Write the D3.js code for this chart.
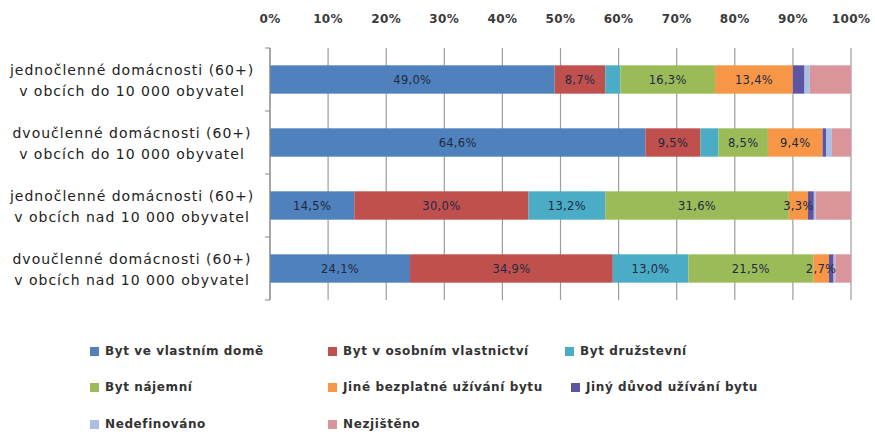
<!DOCTYPE html>
<html>
<head>
<meta charset="utf-8">
<script src="https://cdn.jsdelivr.net/npm/d3@7"></script>
<style>
  body { margin: 0; background: #fff; }
  svg { display: block; font-family: "DejaVu Sans", sans-serif; }
</style>
</head>
<body>
<svg width="875" height="436"></svg>
<script>
// kategorie (dva řádky popisku)
const categories = [
    ['jednočlenné domácnosti (60+)', 'v obcích do 10 000 obyvatel'],
    ['dvoučlenné domácnosti (60+)', 'v obcích do 10 000 obyvatel'],
    ['jednočlenné domácnosti (60+)', 'v obcích nad 10 000 obyvatel'],
    ['dvoučlenné domácnosti (60+)', 'v obcích nad 10 000 obyvatel']
];
const seriesNames = ['Byt ve vlastním domě', 'Byt v osobním vlastnictví', 'Byt družstevní',
    'Byt nájemní', 'Jiné bezplatné užívání bytu', 'Jiný důvod užívání bytu',
    'Nedefinováno', 'Nezjištěno'];
const colors = ['#4f81bd', '#c0504d', '#4bacc6', '#9bbb59', '#f79646', '#5e54a4', '#a9bfe6', '#d9959a'];

// hodnoty v % (po řadách)
const byt_vlastni_dum = [49.0, 64.6, 14.5, 24.1];
const byt_osobni = [8.7, 9.5, 30.0, 34.9];
const byt_druzstevni = [2.6, 3.1, 13.2, 13.0];
const byt_najemni = [16.3, 8.5, 31.6, 21.5];
const jine_bezplatne = [13.4, 9.4, 3.3, 2.7];
const jiny_duvod = [2.0, 0.6, 1.0, 0.8];
const nedefinovano = [0.9, 1.0, 0.3, 0.3];
const nezjisteno = [7.1, 3.3, 6.1, 2.7];
// které hodnoty mají popisek (řada x kategorie)
const showLabel = [
    [true, true, true, true],
    [true, true, true, true],
    [false, false, true, true],
    [true, true, true, true],
    [true, true, true, true],
    [false, false, false, false],
    [false, false, false, false],
    [false, false, false, false]
];
const xTicks = [0, 10, 20, 30, 40, 50, 60, 70, 80, 90, 100];

const values = [byt_vlastni_dum, byt_osobni, byt_druzstevni, byt_najemni,
    jine_bezplatne, jiny_duvod, nedefinovano, nezjisteno];

const svg = d3.select('svg');
const plotLeft = 270, plotRight = 851, plotTop = 48, plotBottom = 300;

const x = d3.scaleLinear().domain([0, 100]).range([plotLeft, plotRight]);
const y = d3.scaleBand().domain(d3.range(categories.length)).range([plotTop, plotBottom])
    .paddingInner(0.55).paddingOuter(0.275);

// mřížka
svg.append('g')
    .selectAll('line')
    .data(xTicks)
    .enter().append('line')
    .attr('x1', d => x(d)).attr('x2', d => x(d))
    .attr('y1', plotTop).attr('y2', plotBottom)
    .attr('stroke', '#9c9c9c')
    .attr('stroke-width', 1.2);

// popisky osy x nahoře
svg.append('g')
    .selectAll('text')
    .data(xTicks)
    .enter().append('text')
    .attr('x', d => x(d))
    .attr('y', 23)
    .attr('text-anchor', 'middle')
    .attr('font-size', 12)
    .attr('font-weight', 'bold')
    .attr('letter-spacing', 0.4)
    .attr('fill', '#3a3a3a')
    .text(d => d + '%');

// stacked data
const rows = categories.map((c, i) => {
    let acc = 0;
    return values.map((s, k) => {
        const seg = { row: i, k: k, x0: acc, v: s[i] };
        acc += s[i];
        seg.x1 = acc;
        return seg;
    });
});
const segs = rows.flat();

svg.append('g')
    .selectAll('rect')
    .data(segs)
    .enter().append('rect')
    .attr('x', d => x(d.x0))
    .attr('y', d => y(d.row))
    .attr('width', d => x(Math.min(d.x1, 100)) - x(d.x0))
    .attr('height', y.bandwidth())
    .attr('fill', d => colors[d.k]);

// popisky hodnot
svg.append('g')
    .selectAll('text')
    .data(segs.filter(d => showLabel[d.k][d.row]))
    .enter().append('text')
    .attr('x', d => x((d.x0 + d.x1) / 2))
    .attr('y', d => y(d.row) + y.bandwidth() / 2 + 4)
    .attr('text-anchor', 'middle')
    .attr('font-size', 11.5)
    .attr('letter-spacing', 0.3)
    .attr('fill', '#1d2a40')
    .text(d => d.v.toFixed(1).replace('.', ',') + '%');

// osa y
svg.append('line')
    .attr('x1', plotLeft).attr('x2', plotLeft)
    .attr('y1', plotTop).attr('y2', plotBottom)
    .attr('stroke', '#888');
svg.append('g')
    .selectAll('line')
    .data(d3.range(categories.length + 1))
    .enter().append('line')
    .attr('x1', plotLeft - 5).attr('x2', plotLeft)
    .attr('y1', d => plotTop + d * y.step()).attr('y2', d => plotTop + d * y.step())
    .attr('stroke', '#888');

// popisky kategorií
const catLabels = svg.append('g')
    .selectAll('text')
    .data(categories)
    .enter().append('text')
    .attr('x', 132)
    .attr('y', (d, i) => y(i) + y.bandwidth() / 2)
    .attr('text-anchor', 'middle')
    .attr('font-size', 14)
    .attr('letter-spacing', 1)
    .attr('fill', '#222');
catLabels.append('tspan').attr('x', 132).attr('dy', -5).text(d => d[0]);
catLabels.append('tspan').attr('x', 132).attr('dy', 21).text(d => d[1]);

// legenda
const legendPos = [[90, 355], [328, 355], [565, 355], [90, 391], [328, 391], [571, 391], [90, 428], [328, 428]];
const legend = svg.append('g')
    .selectAll('g')
    .data(seriesNames)
    .enter().append('g')
    .attr('transform', (d, i) => `translate(${legendPos[i][0]},${legendPos[i][1]})`);
legend.append('rect')
    .attr('x', 0).attr('y', -8)
    .attr('width', 9).attr('height', 9)
    .attr('fill', (d, i) => colors[i]);
legend.append('text')
    .attr('x', 15).attr('y', 0)
    .attr('font-size', 12)
    .attr('font-weight', 'bold')
    .attr('letter-spacing', 0.6)
    .attr('fill', '#333')
    .text(d => d);
</script>
</body>
</html>
